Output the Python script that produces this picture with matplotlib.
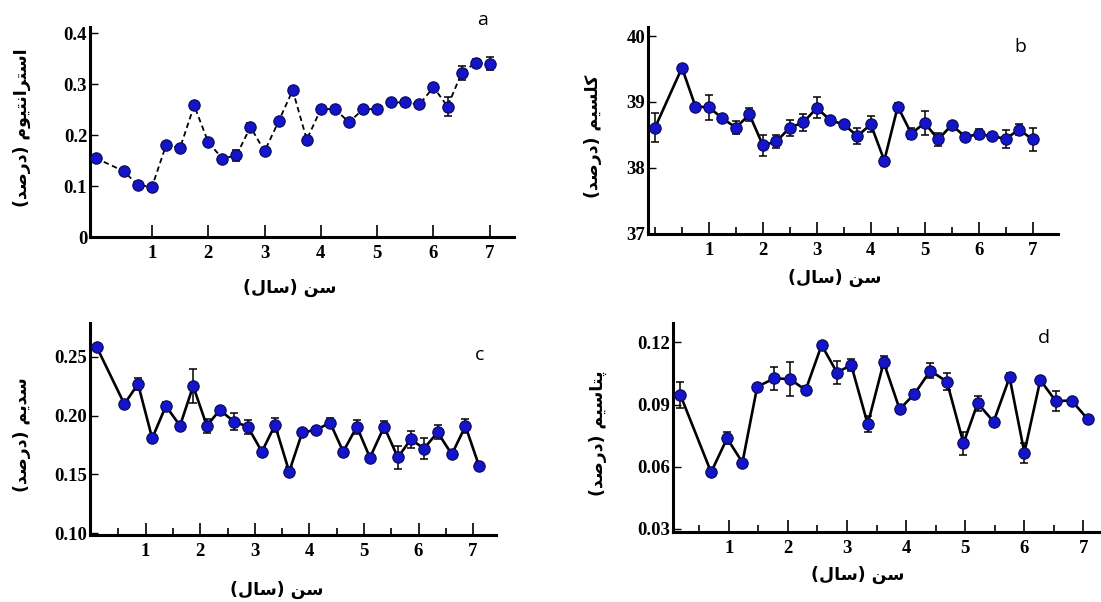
import numpy as np
import matplotlib
matplotlib.use("Agg")
import matplotlib.pyplot as plt
from matplotlib.ticker import FixedLocator

# ---------------- data ----------------
ages_a = [0, 0.5, 0.75, 1, 1.25, 1.5, 1.75, 2, 2.25, 2.5, 2.75, 3, 3.25, 3.5,
          3.75, 4, 4.25, 4.5, 4.75, 5, 5.25, 5.5, 5.75, 6, 6.25, 6.5, 6.75, 7]
strontium = [0.155, 0.129, 0.102, 0.098, 0.180, 0.175, 0.258, 0.186, 0.154, 0.160,
             0.216, 0.168, 0.227, 0.288, 0.191, 0.251, 0.251, 0.225, 0.251, 0.251,
             0.264, 0.264, 0.260, 0.294, 0.256, 0.322, 0.342, 0.340]
strontium_err = [0, 0, 0, 0.004, 0, 0.006, 0, 0, 0, 0.010, 0.008, 0.004, 0, 0,
                 0, 0.004, 0, 0, 0, 0, 0.005, 0, 0, 0, 0.018, 0.013, 0.007, 0.013]

ages_b = ages_a
calcium = [38.61, 39.52, 38.93, 38.92, 38.75, 38.61, 38.81, 38.34, 38.40, 38.61,
           38.69, 38.91, 38.72, 38.66, 38.48, 38.66, 38.11, 38.93, 38.52, 38.68,
           38.43, 38.65, 38.47, 38.51, 38.48, 38.44, 38.58, 38.43]
calcium_err = [0.22, 0, 0, 0.19, 0, 0.10, 0.10, 0.16, 0.10, 0.12, 0.13, 0.16, 0, 0,
               0.12, 0.12, 0.06, 0.06, 0.08, 0.18, 0.10, 0, 0.05, 0.08, 0, 0.14, 0.08, 0.18]

ages_c = [0.10, 0.61, 0.86, 1.12, 1.37, 1.63, 1.87, 2.12, 2.36, 2.62, 2.87, 3.13, 3.37,
          3.63, 3.87, 4.12, 4.38, 4.62, 4.87, 5.11, 5.37, 5.62, 5.86, 6.10, 6.35, 6.61,
          6.86, 7.11]
sodium = [0.2585, 0.2098, 0.2268, 0.1807, 0.2081, 0.1914, 0.2251, 0.1914, 0.2047,
          0.1948, 0.1906, 0.1693, 0.1920, 0.1524, 0.1858, 0.1877, 0.1940, 0.1693,
          0.1906, 0.1643, 0.1906, 0.1645, 0.1798, 0.1720, 0.1858, 0.1671, 0.1911, 0.1572]
sodium_err = [0, 0, 0.005, 0, 0.003, 0, 0.0144, 0.006, 0, 0.007, 0.006, 0.003, 0.006,
              0.004, 0, 0, 0.004, 0, 0.006, 0, 0.005, 0.0098, 0.007, 0.009, 0.006, 0,
              0.006, 0.003]

ages_d = [0.18, 0.70, 0.97, 1.23, 1.48, 1.77, 2.03, 2.30, 2.57, 2.83, 3.07, 3.35, 3.62,
          3.89, 4.14, 4.41, 4.69, 4.97, 5.21, 5.48, 5.75, 6.00, 6.27, 6.53, 6.80, 7.07]
potassium = [0.0946, 0.0573, 0.0737, 0.0620, 0.0986, 0.1026, 0.1023, 0.0970, 0.1187,
             0.1054, 0.1091, 0.0805, 0.1104, 0.0877, 0.0951, 0.1063, 0.1010, 0.0713,
             0.0906, 0.0817, 0.1031, 0.0668, 0.1018, 0.0917, 0.0919, 0.0830]
potassium_err = [0.0062, 0.002, 0.003, 0, 0, 0.0056, 0.0084, 0.002, 0, 0.0057, 0.003,
                 0.004, 0.003, 0, 0.002, 0.0035, 0.0042, 0.0056, 0.0035, 0, 0.002,
                 0.0048, 0, 0.0048, 0, 0]

x_label = "سن (سال)"
y_labels = ["استرانتیوم (درصد)", "کلسیم (درصد)", "سدیم (درصد)", "پتاسیم (درصد)"]
panel_letters = ["a", "b", "c", "d"]

yticks_a = [0, 0.1, 0.2, 0.3, 0.4]
yticklabels_a = ["0", "0.1", "0.2", "0.3", "0.4"]
yticks_b = [37, 38, 39, 40]
yticklabels_b = ["37", "38", "39", "40"]
yticks_c = [0.10, 0.15, 0.20, 0.25]
yticklabels_c = ["0.10", "0.15", "0.20", "0.25"]
yticks_d = [0.03, 0.06, 0.09, 0.12]
yticklabels_d = ["0.03", "0.06", "0.09", "0.12"]
xticks = [1, 2, 3, 4, 5, 6, 7]
xticklabels = ["1", "2", "3", "4", "5", "6", "7"]

# ---------------- Persian shaping (presentation forms, visual order) ----------------
FORMS = {  # isolated, final, initial, medial
    "ا": ("\uFE8D", "\uFE8E", None, None),
    "ت": ("\uFE95", "\uFE96", "\uFE97", "\uFE98"),
    "پ": ("\uFB56", "\uFB57", "\uFB58", "\uFB59"),
    "د": ("\uFEA9", "\uFEAA", None, None),
    "ر": ("\uFEAD", "\uFEAE", None, None),
    "س": ("\uFEB1", "\uFEB2", "\uFEB3", "\uFEB4"),
    "ص": ("\uFEB9", "\uFEBA", "\uFEBB", "\uFEBC"),
    "ک": ("\uFB8E", "\uFB8F", "\uFB90", "\uFB91"),
    "ل": ("\uFEDD", "\uFEDE", "\uFEDF", "\uFEE0"),
    "م": ("\uFEE1", "\uFEE2", "\uFEE3", "\uFEE4"),
    "ن": ("\uFEE5", "\uFEE6", "\uFEE7", "\uFEE8"),
    "و": ("\uFEED", "\uFEEE", None, None),
    "ی": ("\uFBFC", "\uFBFD", "\uFBFE", "\uFBFF"),
}


def shape(text):
    out = []
    n = len(text)
    for i, ch in enumerate(text):
        if ch not in FORMS:
            out.append(ch)
            continue
        iso, fin, ini, med = FORMS[ch]
        prev = text[i - 1] if i > 0 else ""
        nxt = text[i + 1] if i < n - 1 else ""
        join_prev = prev in FORMS and FORMS[prev][2] is not None
        join_next = nxt in FORMS and ini is not None
        if join_prev and join_next:
            out.append(med)
        elif join_prev:
            out.append(fin)
        elif join_next:
            out.append(ini)
        else:
            out.append(iso)
    vis = "".join(reversed(out))
    vis = vis.replace("(", "\0").replace(")", "(").replace("\0", ")")
    return vis


# ---------------- figure ----------------
fig = plt.figure(figsize=(11.01, 6.02), dpi=100)
fig.patch.set_facecolor("white")

W, H = 1101.0, 602.0


def axes_px(left, top, right, bottom):
    return fig.add_axes([left / W, 1 - bottom / H, (right - left) / W, (bottom - top) / H])


ax_a = axes_px(90, 27, 514, 237)
ax_b = axes_px(648, 27, 1058, 233.5)
ax_c = axes_px(90, 323, 496, 535)
ax_d = axes_px(672.7, 323.3, 1100, 531.7)

tick_font = dict(family="Liberation Serif", weight="bold", size=13.5)
fa_font = dict(family="DejaVu Sans", weight="bold", size=12.5)

MFC = "#1414c8"
MEC = "#0b0b55"


def draw(ax, x, y, err, dashed):
    x = np.asarray(x, float)
    y = np.asarray(y, float)
    err = np.asarray(err, float)
    m = err > 0
    ax.errorbar(x[m], y[m], yerr=err[m], fmt="none", ecolor="black",
                elinewidth=1.1, capsize=3.2, capthick=1.1, zorder=2)
    ax.plot(x, y, color="black", lw=1.3 if dashed else 1.9,
            ls=(0, (3, 2)) if dashed else "-", zorder=3)
    ax.plot(x, y, ls="none", marker="o", ms=8.2, mfc=MFC, mec=MEC, mew=0.8, zorder=4)


def style(ax, xlim, ylim, yt, ytl, minor):
    ax.set_xlim(*xlim)
    ax.set_ylim(*ylim)
    for s in ("top", "right"):
        ax.spines[s].set_visible(False)
    for s in ("left", "bottom"):
        ax.spines[s].set_linewidth(2.2)
    ax.set_xticks(xticks)
    ax.set_xticklabels(xticklabels, fontdict=tick_font)
    ax.set_yticks(yt)
    ax.set_yticklabels(ytl, fontdict=tick_font)
    if minor:
        ax.xaxis.set_minor_locator(FixedLocator([0, 0.5, 1.5, 2.5, 3.5, 4.5, 5.5, 6.5]))
    ax.tick_params(axis="x", which="major", direction="in", length=9, width=1.2, pad=6)
    ax.tick_params(axis="x", which="minor", direction="in", length=5, width=1.2)
    ax.tick_params(axis="y", which="major", direction="in", length=6, width=1.0, pad=2)
    ax.set_facecolor("none")


draw(ax_a, ages_a, strontium, strontium_err, True)
style(ax_a, (-0.10, 7.43), (0, 0.412), yticks_a, yticklabels_a, False)

draw(ax_b, ages_b, calcium, calcium_err, False)
style(ax_b, (-0.13, 7.47), (37, 40.14), yticks_b, yticklabels_b, True)

draw(ax_c, ages_c, sodium, sodium_err, False)
style(ax_c, (-0.02, 7.42), (0.0986, 0.2786), yticks_c, yticklabels_c, True)

draw(ax_d, ages_d, potassium, potassium_err, False)
style(ax_d, (0.05, 7.28), (0.0286, 0.1292), yticks_d, yticklabels_d, True)

# axis titles (Persian), placed in figure pixels
def ftext(x, y, s, **kw):
    fig.text(x / W, 1 - y / H, s, ha="center", va="center", **kw)

ftext(290, 288, shape(x_label), **fa_font)
ftext(835, 278, shape(x_label), **fa_font)
ftext(277, 590, shape(x_label), **fa_font)
ftext(858, 575, shape(x_label), **fa_font)

ftext(22, 128, shape(y_labels[0]), rotation=90, **fa_font)
ftext(593, 136, shape(y_labels[1]), rotation=90, **fa_font)
ftext(22, 435, shape(y_labels[2]), rotation=90, **fa_font)
ftext(598, 433, shape(y_labels[3]), rotation=90, **fa_font)

letter_font = dict(family="Open Sans", size=14)
ftext(483, 20, panel_letters[0], **letter_font)
ftext(1020, 47, panel_letters[1], **letter_font)
ftext(480, 355, panel_letters[2], **letter_font)
ftext(1044, 338, panel_letters[3], **letter_font)

fig.savefig("out.png", dpi=100, facecolor="white")
